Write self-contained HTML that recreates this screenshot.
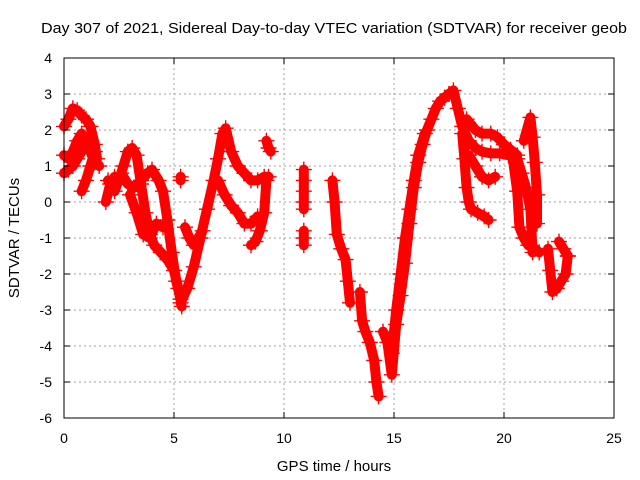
<!DOCTYPE html>
<html><head><meta charset="utf-8"><style>
body{margin:0;background:#fff}
svg{display:block;font-family:"Liberation Sans",sans-serif}
</style></head><body>
<svg id="chart" width="640" height="480" viewBox="0 0 640 480" xmlns="http://www.w3.org/2000/svg">
<rect width="640" height="480" fill="#fff"/>
<text x="334" y="33" font-size="15" text-anchor="middle" textLength="586" lengthAdjust="spacingAndGlyphs">Day 307 of 2021, Sidereal Day-to-day VTEC variation (SDTVAR) for receiver geob</text>
<g id="grid"></g>
<g id="marks"></g>
<rect x="64" y="58" width="550" height="360" fill="none" stroke="#000" stroke-width="1"/>
<g id="axes"></g>
<text x="334" y="471" font-size="15" text-anchor="middle">GPS time / hours</text>
<text transform="translate(19,238) rotate(-90)" font-size="15" text-anchor="middle">SDTVAR / TECUs</text>
</svg>
<script>
const xTicks=[0,5,10,15,20,25];
const yTicks=[4,3,2,1,0,-1,-2,-3,-4,-5,-6];
const t1=[0,0.2,0.4,0.6,0.8,1.0,1.2,1.4,1.5], v1=[2.1,2.3,2.6,2.55,2.4,2.3,2.1,1.6,1.2];
const t2=[0,0.2,0.4,0.6,0.8,1.0,1.2,1.4,1.6], v2=[1.3,1.2,1.4,1.7,1.9,1.7,1.4,1.1,1.0];
const t3=[0,0.2,0.4,0.6,0.9], v3=[0.8,0.9,1.0,1.2,1.5];
const t4=[0.8,1.0,1.2,1.4], v4=[0.3,0.6,1.0,1.4];
const t5=[1.9,2.1,2.3,2.5,2.7,2.9,3.1,3.3,3.5,3.7,3.9,4.1,4.4,4.7,5.0,5.2,5.35], v5=[0.0,0.5,0.7,0.6,1.0,1.4,1.5,1.3,0.5,-0.3,-0.9,-1.2,-1.4,-1.6,-1.9,-2.4,-2.9];
const t6=[2.0,2.3,2.6,2.9,3.2,3.5,3.8,4.0,4.3,4.5,4.7,4.9,5.1,5.3], v6=[0.6,0.3,0.8,0.5,0.4,0.6,0.8,0.9,0.6,0.3,-0.5,-1.4,-2.2,-2.7];
const t7=[3.0,3.3,3.6,3.9,4.2,4.5], v7=[0.2,-0.3,-0.9,-1.0,-0.6,-0.7];
const t8=[5.3,5.6,5.9,6.2,6.5,6.8,7.0,7.2,7.35,7.6,7.9,8.2,8.5,8.8,9.1,9.3], v8=[-2.8,-2.4,-1.8,-1.0,-0.2,0.6,1.2,1.9,2.05,1.4,1.0,0.8,0.6,0.6,0.7,0.7];
const t9=[7.0,7.3,7.6,7.9,8.2,8.5,8.8], v9=[0.6,0.2,-0.1,-0.3,-0.6,-0.6,-0.4];
const t10=[5.5,5.7,5.9,6.1,6.3], v10=[-0.7,-1.0,-1.2,-1.0,-0.8];
const t11=[8.5,8.7,8.9,9.1,9.2], v11=[-1.2,-1.1,-0.8,-0.3,0.6];
const t12=[9.2,9.3,9.4], v12=[1.7,1.5,1.4];
const t13=[5.3,5.3], v13=[0.6,0.7];
const t14=[10.9,10.9,10.9,10.9,10.9], v14=[0.9,0.6,0.3,0.0,-0.2];
const t15=[10.9,10.9,10.9], v15=[-0.8,-1.0,-1.2];
const t16=[12.2,12.3,12.4,12.6,12.8,12.9,13.0], v16=[0.6,0.0,-0.9,-1.3,-1.6,-2.2,-2.8];
const t17=[13.45,13.55,13.7,13.9,14.1,14.2,14.3], v17=[-2.5,-3.3,-3.6,-3.9,-4.4,-5.0,-5.4];
const t18=[14.5,14.7,14.9,15.1,15.3,15.5,15.7,15.9,16.1,16.3,16.5,16.7,16.9,17.1,17.3,17.5], v18=[-3.6,-3.9,-4.8,-3.4,-2.6,-1.7,-0.6,0.4,1.1,1.6,2.0,2.3,2.6,2.8,2.9,3.0];
const t19=[14.9,15.1,15.3,15.5,15.7,15.9,16.1,16.4], v19=[-4.2,-3.0,-2.0,-1.0,-0.2,0.6,1.3,1.9];
const t20=[17.5,17.7,17.9,18.1,18.4,18.7,19.0,19.4,19.8,20.2,20.6,20.8,21.0,21.2,21.3], v20=[3.0,3.1,2.6,2.1,1.7,1.5,1.4,1.35,1.35,1.3,1.2,0.8,0.4,-0.2,-1.4];
const t21=[18.3,18.7,19.0,19.4,19.7,20.0,20.3,20.6], v21=[2.3,2.0,1.9,1.9,1.8,1.6,1.45,1.3];
const t22=[18.1,18.2,18.3,18.4,18.5,18.8,19.1,19.3], v22=[1.9,1.2,0.4,0.0,-0.2,-0.3,-0.4,-0.5];
const t23=[18.4,18.7,19.0,19.3,19.6], v23=[1.3,1.0,0.7,0.6,0.7];
const t24=[20.4,20.6,20.7,20.9,21.1,21.4,21.6], v24=[1.2,0.3,-0.7,-1.0,-1.2,-1.3,-1.4];
const t25=[20.9,21.2,21.3,21.4,21.5,21.5], v25=[1.7,2.35,1.8,1.1,0.2,-0.6];
const t26=[22.0,22.1,22.2,22.4,22.6,22.8,22.9], v26=[-1.3,-1.9,-2.5,-2.4,-2.2,-2.0,-1.5];
const t27=[22.5,22.7,22.9], v27=[-1.1,-1.3,-1.5];
const tracksT=[t1,t2,t3,t4,t5,t6,t7,t8,t9,t10,t11,t12,t13,t14,t15,t16,t17,t18,t19,t20,t21,t22,t23,t24,t25,t26,t27];
const tracksV=[v1,v2,v3,v4,v5,v6,v7,v8,v9,v10,v11,v12,v13,v14,v15,v16,v17,v18,v19,v20,v21,v22,v23,v24,v25,v26,v27];

const NS="http://www.w3.org/2000/svg";
const X0=64,X1=614,Y0=418,Y1=58;
function xs(t){return X0+(t-0)/(25-0)*(X1-X0);}
function ys(v){return Y0-(v-(-6))/(4-(-6))*(Y0-Y1);}
function mk(tag,attrs,parent){const e=document.createElementNS(NS,tag);for(const k in attrs)e.setAttribute(k,attrs[k]);parent.appendChild(e);return e;}
const grid=document.getElementById('grid'),axes=document.getElementById('axes'),marks=document.getElementById('marks');
xTicks.forEach(t=>{
  const x=xs(t);
  if(t>0&&t<25){const g=mk('line',{x1:x,y1:Y1,x2:x,y2:Y0,stroke:'#a0a0a0','stroke-dasharray':'2,3'},grid);
  
  }
  mk('line',{x1:x,y1:Y0,x2:x,y2:Y0-6,stroke:'#000'},axes);
  mk('line',{x1:x,y1:Y1,x2:x,y2:Y1+6,stroke:'#000'},axes);
  const l=mk('text',{x:x,y:443,'font-size':14,'text-anchor':'middle'},axes);
  l.textContent=t;
  
  
});
yTicks.forEach(v=>{
  const y=ys(v);
  if(v>-6&&v<4){const g=mk('line',{x1:X0,y1:y,x2:X1,y2:y,stroke:'#a0a0a0','stroke-dasharray':'2,3'},grid);
  
  }
  mk('line',{x1:X0,y1:y,x2:X0+6,y2:y,stroke:'#000'},axes);
  mk('line',{x1:X1,y1:y,x2:X1-6,y2:y,stroke:'#000'},axes);
  const l=mk('text',{x:52,y:y+5,'font-size':14,'text-anchor':'end'},axes);
  l.textContent=v;
  
  
});
tracksT.forEach((ts,i)=>{
  const vs=tracksV[i];
  const pts=ts.map((t,j)=>xs(t)+','+ys(vs[j])).join(' ');
  const pl=mk('polyline',{points:pts,fill:'none',stroke:'#f00','stroke-width':10,'stroke-linejoin':'round','stroke-linecap':'round'},marks);
  
  
  ts.forEach((t,j)=>{
    const x=xs(t),y=ys(vs[j]);
    const p=mk('path',{d:`M${x-8},${y}H${x+8}M${x},${y-8}V${y+8}`,stroke:'#f00','stroke-width':1.4},marks);
    
    
  });
});
</script>
</body></html>
